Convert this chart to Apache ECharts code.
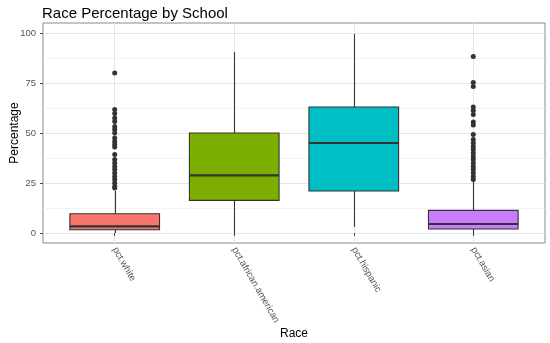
<!DOCTYPE html>
<html>
<head>
<meta charset="utf-8">
<script src="https://cdn.jsdelivr.net/npm/echarts@6/dist/echarts.min.js"></script>
<style>
html,body{margin:0;padding:0;background:#fff;}
#chart{width:550px;height:343px;}
</style>
</head>
<body>
<div id="chart"></div>
<script>
// ---- data ----
const categories = ['pct.white', 'pct.african.american', 'pct.hispanic', 'pct.asian'];
const boxMin    = [0,    0,    3,    0];
const boxQ1     = [1.6,  16.3, 21,   2];
const boxMedian = [3.3,  28.8, 45,   4.5];
const boxQ3     = [9.6,  50,   63,   11.3];
const boxMax    = [21,   90.5, 99.5, 25.8];
const whiteOutliers = [80, 61.7, 59.7, 57.5, 55.8, 53.3, 51.7, 50, 47.5, 45.8, 44.2, 43,
  39.2, 36.7, 35, 33.3, 31.7, 30, 28.3, 26.7, 25, 23.3, 22.5];
const africanAmericanOutliers = [];
const hispanicOutliers = [];
const asianOutliers = [88.3, 75.3, 73.3, 63, 61.2, 59.2, 55.5, 54, 49.2, 46.7, 45, 43.3,
  41.7, 40, 38.3, 36.7, 35, 33.3, 31.7, 30, 28.3, 26.7];
const yTicks = [0, 25, 50, 75, 100];
const yMinorTicks = [12.5, 37.5, 62.5, 87.5];

// ---- styles ----
const boxColors = ['#F8766D', '#7CAE00', '#00BFC4', '#C77CFF'];
const xPositions = categories.map((c, i) => i + 1);

const boxData = categories.map((c, i) => [xPositions[i], boxMin[i], boxQ1[i], boxMedian[i], boxQ3[i], boxMax[i]]);
const outlierSets = [whiteOutliers, africanAmericanOutliers, hispanicOutliers, asianOutliers];
const outlierData = [];
outlierSets.forEach((set, i) => set.forEach(v => outlierData.push([xPositions[i], v])));

const chart = echarts.init(document.getElementById('chart'), null, {renderer: 'canvas'});
const font = 'Liberation Sans, Arial, sans-serif';

chart.setOption({
  animation: false,
  backgroundColor: '#fff',
  title: {
    text: 'Race Percentage by School',
    left: 37, top: 1,
    textStyle: {fontFamily: font, fontSize: 15, fontWeight: 'normal', color: '#000'}
  },
  grid: {
    left: 43, right: 5, top: 23, bottom: 100,
    outerBoundsMode: 'none', containLabel: false,
    show: true, borderColor: '#8a8a8a', borderWidth: 1, backgroundColor: '#fff'
  },
  xAxis: {
    type: 'value', min: 0.4, max: 4.6,
    name: 'Race', nameLocation: 'middle', nameGap: 85, nameMoveOverlap: false,
    nameTextStyle: {fontFamily: font, fontSize: 12, color: '#000'},
    axisLine: {show: false},
    axisTick: {show: true, length: 3, customValues: xPositions, lineStyle: {color: '#444'}},
    axisLabel: {
      customValues: xPositions, rotate: -60, margin: 5,
      fontFamily: font, fontSize: 9.5, color: '#555',
      formatter: v => categories[Math.round(v) - 1]
    },
    splitLine: {show: true, lineStyle: {color: '#e6e6e6', width: 1}}
  },
  yAxis: [{
    type: 'value', min: -5, max: 105,
    name: 'Percentage', nameLocation: 'middle', nameGap: 22, nameMoveOverlap: false,
    nameTextStyle: {fontFamily: font, fontSize: 12, color: '#000'},
    axisLine: {show: false},
    axisTick: {show: true, length: 3, customValues: yTicks, lineStyle: {color: '#444'}},
    axisLabel: {customValues: yTicks, margin: 7, fontFamily: font, fontSize: 9.5, color: '#555'},
    splitLine: {show: true, lineStyle: {color: '#e6e6e6', width: 1}}
  }, {
    type: 'value', min: -5, max: 105, position: 'left',
    axisLine: {show: false},
    axisTick: {show: false, customValues: yMinorTicks},
    axisLabel: {show: false},
    splitLine: {show: true, lineStyle: {color: '#f1f1f1', width: 0.8}}
  }],
  series: [{
    type: 'custom',
    z: 2,
    data: boxData,
    renderItem: function (params, api) {
      const x = api.value(0);
      const pMin = api.coord([x, api.value(1)]);
      const pQ1 = api.coord([x, api.value(2)]);
      const pMed = api.coord([x, api.value(3)]);
      const pQ3 = api.coord([x, api.value(4)]);
      const pMax = api.coord([x, api.value(5)]);
      const half = api.size([0.75, 0])[0] / 2;
      const cx = Math.round(pMed[0]) + 0.5;
      return {
        type: 'group',
        children: [
          {type: 'line', shape: {x1: cx, y1: pMin[1], x2: cx, y2: pQ1[1]}, style: {stroke: '#333', lineWidth: 1.1}},
          {type: 'line', shape: {x1: cx, y1: pQ3[1], x2: cx, y2: pMax[1]}, style: {stroke: '#333', lineWidth: 1.1}},
          {type: 'rect', shape: {x: pQ3[0] - half, y: pQ3[1], width: 2 * half, height: pQ1[1] - pQ3[1]},
            style: {fill: boxColors[params.dataIndex], stroke: '#333', lineWidth: 1.1}},
          {type: 'line', shape: {x1: pMed[0] - half, y1: pMed[1], x2: pMed[0] + half, y2: pMed[1]},
            style: {stroke: '#333', lineWidth: 2.2}}
        ]
      };
    }
  }, {
    type: 'scatter',
    z: 3,
    data: outlierData,
    symbol: 'circle',
    symbolSize: 5,
    itemStyle: {color: '#333', opacity: 1}
  }]
});
</script>
</body>
</html>
